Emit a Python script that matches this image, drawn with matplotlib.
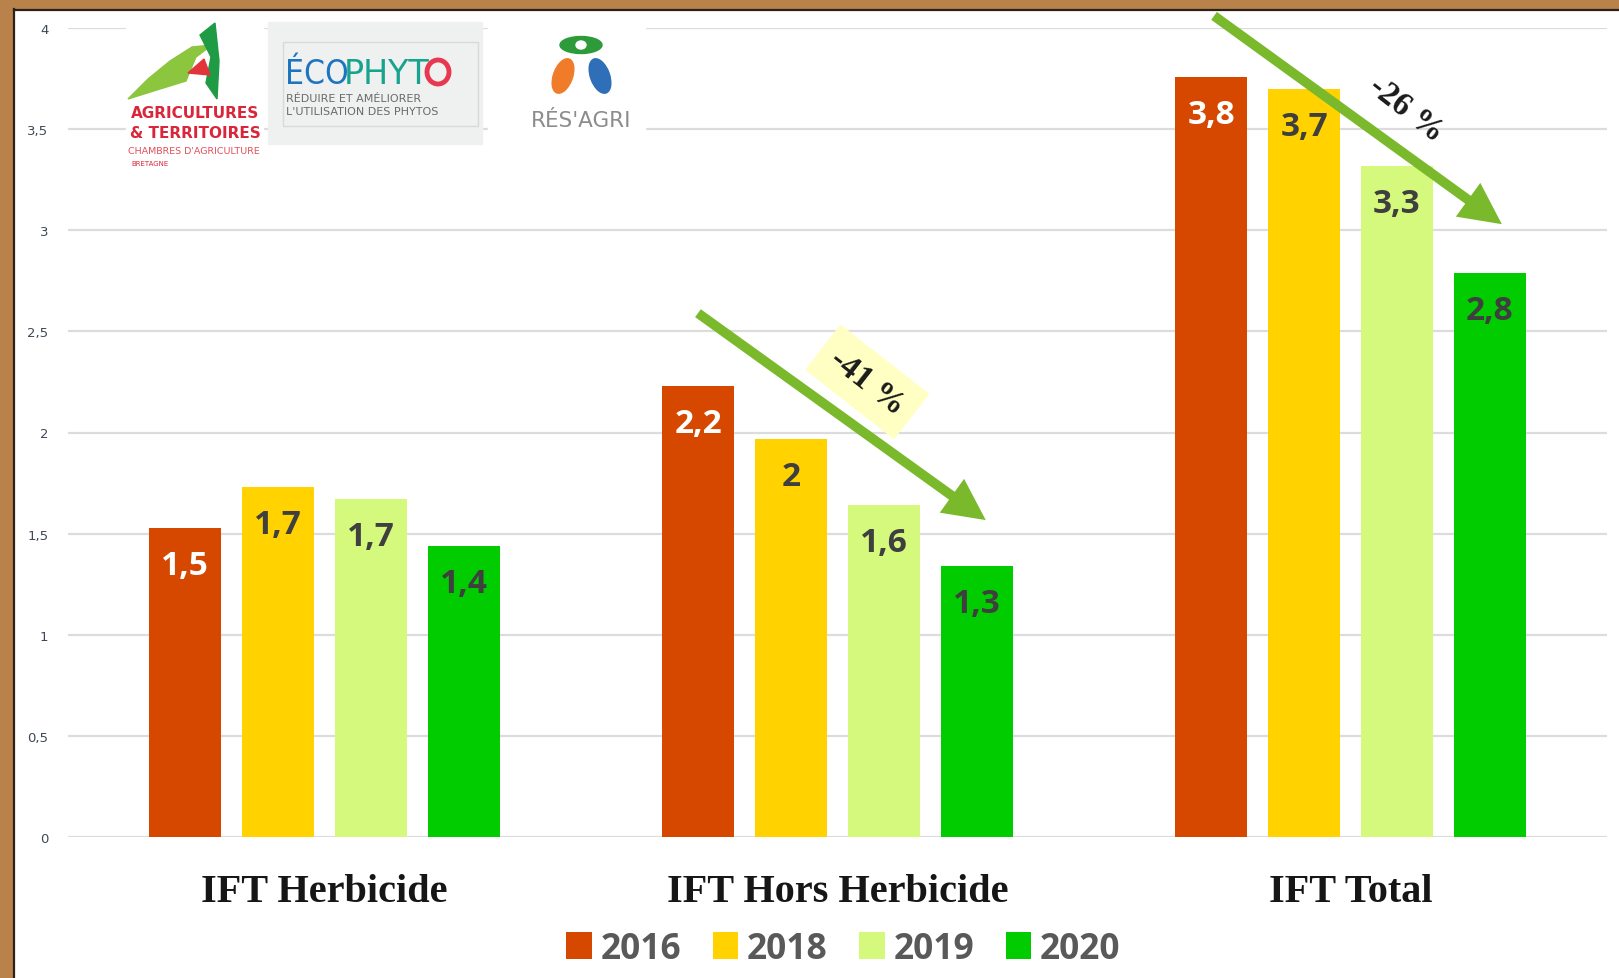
import numpy as np
import matplotlib.pyplot as plt
from matplotlib.patches import Rectangle, Polygon, Ellipse

# Data
categories = ['IFT Herbicide', 'IFT Hors Herbicide', 'IFT Total']
years = ['2016', '2018', '2019', '2020']
v2016 = [1.53, 2.23, 3.76]
v2018 = [1.73, 1.97, 3.70]
v2019 = [1.67, 1.64, 3.32]
v2020 = [1.44, 1.34, 2.79]
lab2016 = ['1,5', '2,2', '3,8']
lab2018 = ['1,7', '2', '3,7']
lab2019 = ['1,7', '1,6', '3,3']
lab2020 = ['1,4', '1,3', '2,8']
yticks = [0, 0.5, 1, 1.5, 2, 2.5, 3, 3.5, 4]
ytick_labels = ['0', '0,5', '1', '1,5', '2', '2,5', '3', '3,5', '4']

# Trend arrows (start, end) and their captions
arrows = [((0.728, 2.59), (1.289, 1.567)), ((1.734, 4.06), (2.295, 3.03))]
captions = [('-41 %', 1.058, 2.25, True), ('-26 %', 2.108, 3.60, False)]

colors = ['#d64800', '#ffd200', '#d4f97c', '#00cc00']
label_colors = ['white', '#3f3f3f', '#3f3f3f', '#3f3f3f']
values = [v2016, v2018, v2019, v2020]
labels = [lab2016, lab2018, lab2019, lab2020]

W, H = 1619, 979
fig = plt.figure(figsize=(W / 100, H / 100), dpi=100)
ax = fig.add_axes([68 / W, 141 / H, 1539 / W, 809 / H])

x = np.arange(len(categories))
step, width = 0.181, 0.140
bars = []
for i, (vals, labs) in enumerate(zip(values, labels)):
    pos = x + (i - 1.5) * step
    b = ax.bar(pos, vals, width, color=colors[i], zorder=2)
    bars.append(b)
    for px, v, t in zip(pos, vals, labs):
        ax.annotate(t, (px, v), xytext=(0, -27), textcoords='offset points',
                    ha='center', va='center', fontsize=24, fontweight='bold',
                    family='Open Sans', color=label_colors[i], zorder=3)

ax.set_xlim(-0.5, 2.5)
ax.set_ylim(0, 4)
ax.set_yticks(yticks)
ax.set_yticklabels(ytick_labels, fontsize=9.5, color='#3f4858')
ax.set_xticks(x)
ax.set_xticklabels(categories, fontsize=29, fontweight='bold',
                   family='Liberation Serif', color='#161616')
ax.tick_params(axis='y', length=0, pad=14)
ax.tick_params(axis='x', length=0, pad=26)
for s in ax.spines.values():
    s.set_visible(False)
ax.yaxis.grid(True, color='#dcdcdc', lw=1.6)
ax.set_axisbelow(True)

# arrows and percentages
for (x0, y0), (x1, y1) in arrows:
    ax.annotate('', xy=(x1, y1), xytext=(x0, y0), annotation_clip=False,
                arrowprops=dict(facecolor='#7ab92c', edgecolor='none',
                                width=7, headwidth=30, headlength=30, shrink=0),
                zorder=4)
for txt, tx, ty, boxed in captions:
    bbox = dict(boxstyle='square,pad=0.4', fc='#ffffc4', ec='none') if boxed else None
    ax.text(tx, ty, txt, rotation=-38, ha='center', va='center', fontsize=24,
            fontweight='bold', family='Liberation Serif', color='#1a1a1a',
            bbox=bbox, zorder=5, rotation_mode='anchor')

fig.legend([b for b in bars], years, loc='center', bbox_to_anchor=(0.521, 0.030),
           ncol=4, frameon=False, handlelength=0.71, handleheight=0.82,
           handletextpad=0.25, columnspacing=0.9,
           prop=dict(family='Open Sans', weight='bold', size=25.5),
           labelcolor='#595959')

# overlay in pixel coordinates: frame and logos
lax = fig.add_axes([0, 0, 1, 1], zorder=5)
lax.set_xlim(0, W)
lax.set_ylim(H, 0)
lax.axis('off')
lax.patch.set_alpha(0)

lax.add_patch(Rectangle((0, 0), 13, H, color='#b9824b'))
lax.add_patch(Rectangle((0, 0), W, 9.5, color='#b9824b'))
lax.plot([14, 14], [10, H], color='#2b2118', lw=1.6)
lax.plot([14, W], [10.5, 10.5], color='#2b2118', lw=1.6)

# logo 1
lax.add_patch(Rectangle((126, 20), 137, 152, color='white'))
lax.add_patch(Polygon([(128, 100), (148, 80), (170, 62), (192, 48), (212, 46),
                       (196, 58), (190, 72), (186, 82), (160, 90)],
                      color='#8cc63f'))
lax.add_patch(Polygon([(200, 36), (215, 24), (219, 62), (217, 100), (206, 84),
                       (211, 58)], color='#1f9a45'))
lax.add_patch(Polygon([(188, 74), (204, 60), (210, 76)], color='#e3343a'))
lax.text(195, 114, 'AGRICULTURES', ha='center', va='center', fontsize=11,
         fontweight='bold', color='#d9263a', family='DejaVu Sans')
lax.text(195, 133, '& TERRITOIRES', ha='center', va='center', fontsize=11,
         fontweight='bold', color='#d9263a', family='DejaVu Sans')
lax.text(194, 151, "CHAMBRES D'AGRICULTURE", ha='center', va='center',
         fontsize=6.8, color='#e0505a', family='DejaVu Sans')
lax.text(150, 164, 'BRETAGNE', ha='center', va='center', fontsize=5,
         color='#d9263a', family='DejaVu Sans')

# logo 2
lax.add_patch(Rectangle((268, 23), 214, 122, color='#eff1f1'))
lax.add_patch(Rectangle((283, 43), 195, 84, fill=False, ec='#d6dada', lw=1))
lax.text(285, 84, 'ÉCO', ha='left', va='baseline', fontsize=24,
         color='#1f74c0', family='DejaVu Sans', fontstretch='condensed')
lax.text(344, 84, 'PHYT', ha='left', va='baseline', fontsize=24,
         color='#17a38e', family='DejaVu Sans')
lax.add_patch(Ellipse((438, 73), 22, 24, fill=False, ec='#e8384f', lw=3.5))
lax.text(286, 99, 'RÉDUIRE ET AMÉLIORER', ha='left', va='center', fontsize=8,
         color='#6a6a6a', family='DejaVu Sans')
lax.text(286, 112, "L'UTILISATION DES PHYTOS", ha='left', va='center',
         fontsize=8, color='#6a6a6a', family='DejaVu Sans')

# logo 3
lax.add_patch(Rectangle((488, 18), 157, 132, color='white'))
lax.add_patch(Ellipse((581, 46), 42, 17, color='#2e9b3a'))
lax.add_patch(Ellipse((563, 77), 19, 36, angle=20, color='#f07c2a'))
lax.add_patch(Ellipse((600, 77), 19, 36, angle=-20, color='#2f6fb8'))
lax.add_patch(Ellipse((581, 46), 10, 8, color='white'))
lax.text(581, 121, "RÉS'AGRI", ha='center', va='center', fontsize=15.5,
         color='#8c8c8c', family='DejaVu Sans')

fig.savefig('out.png', dpi=100)
